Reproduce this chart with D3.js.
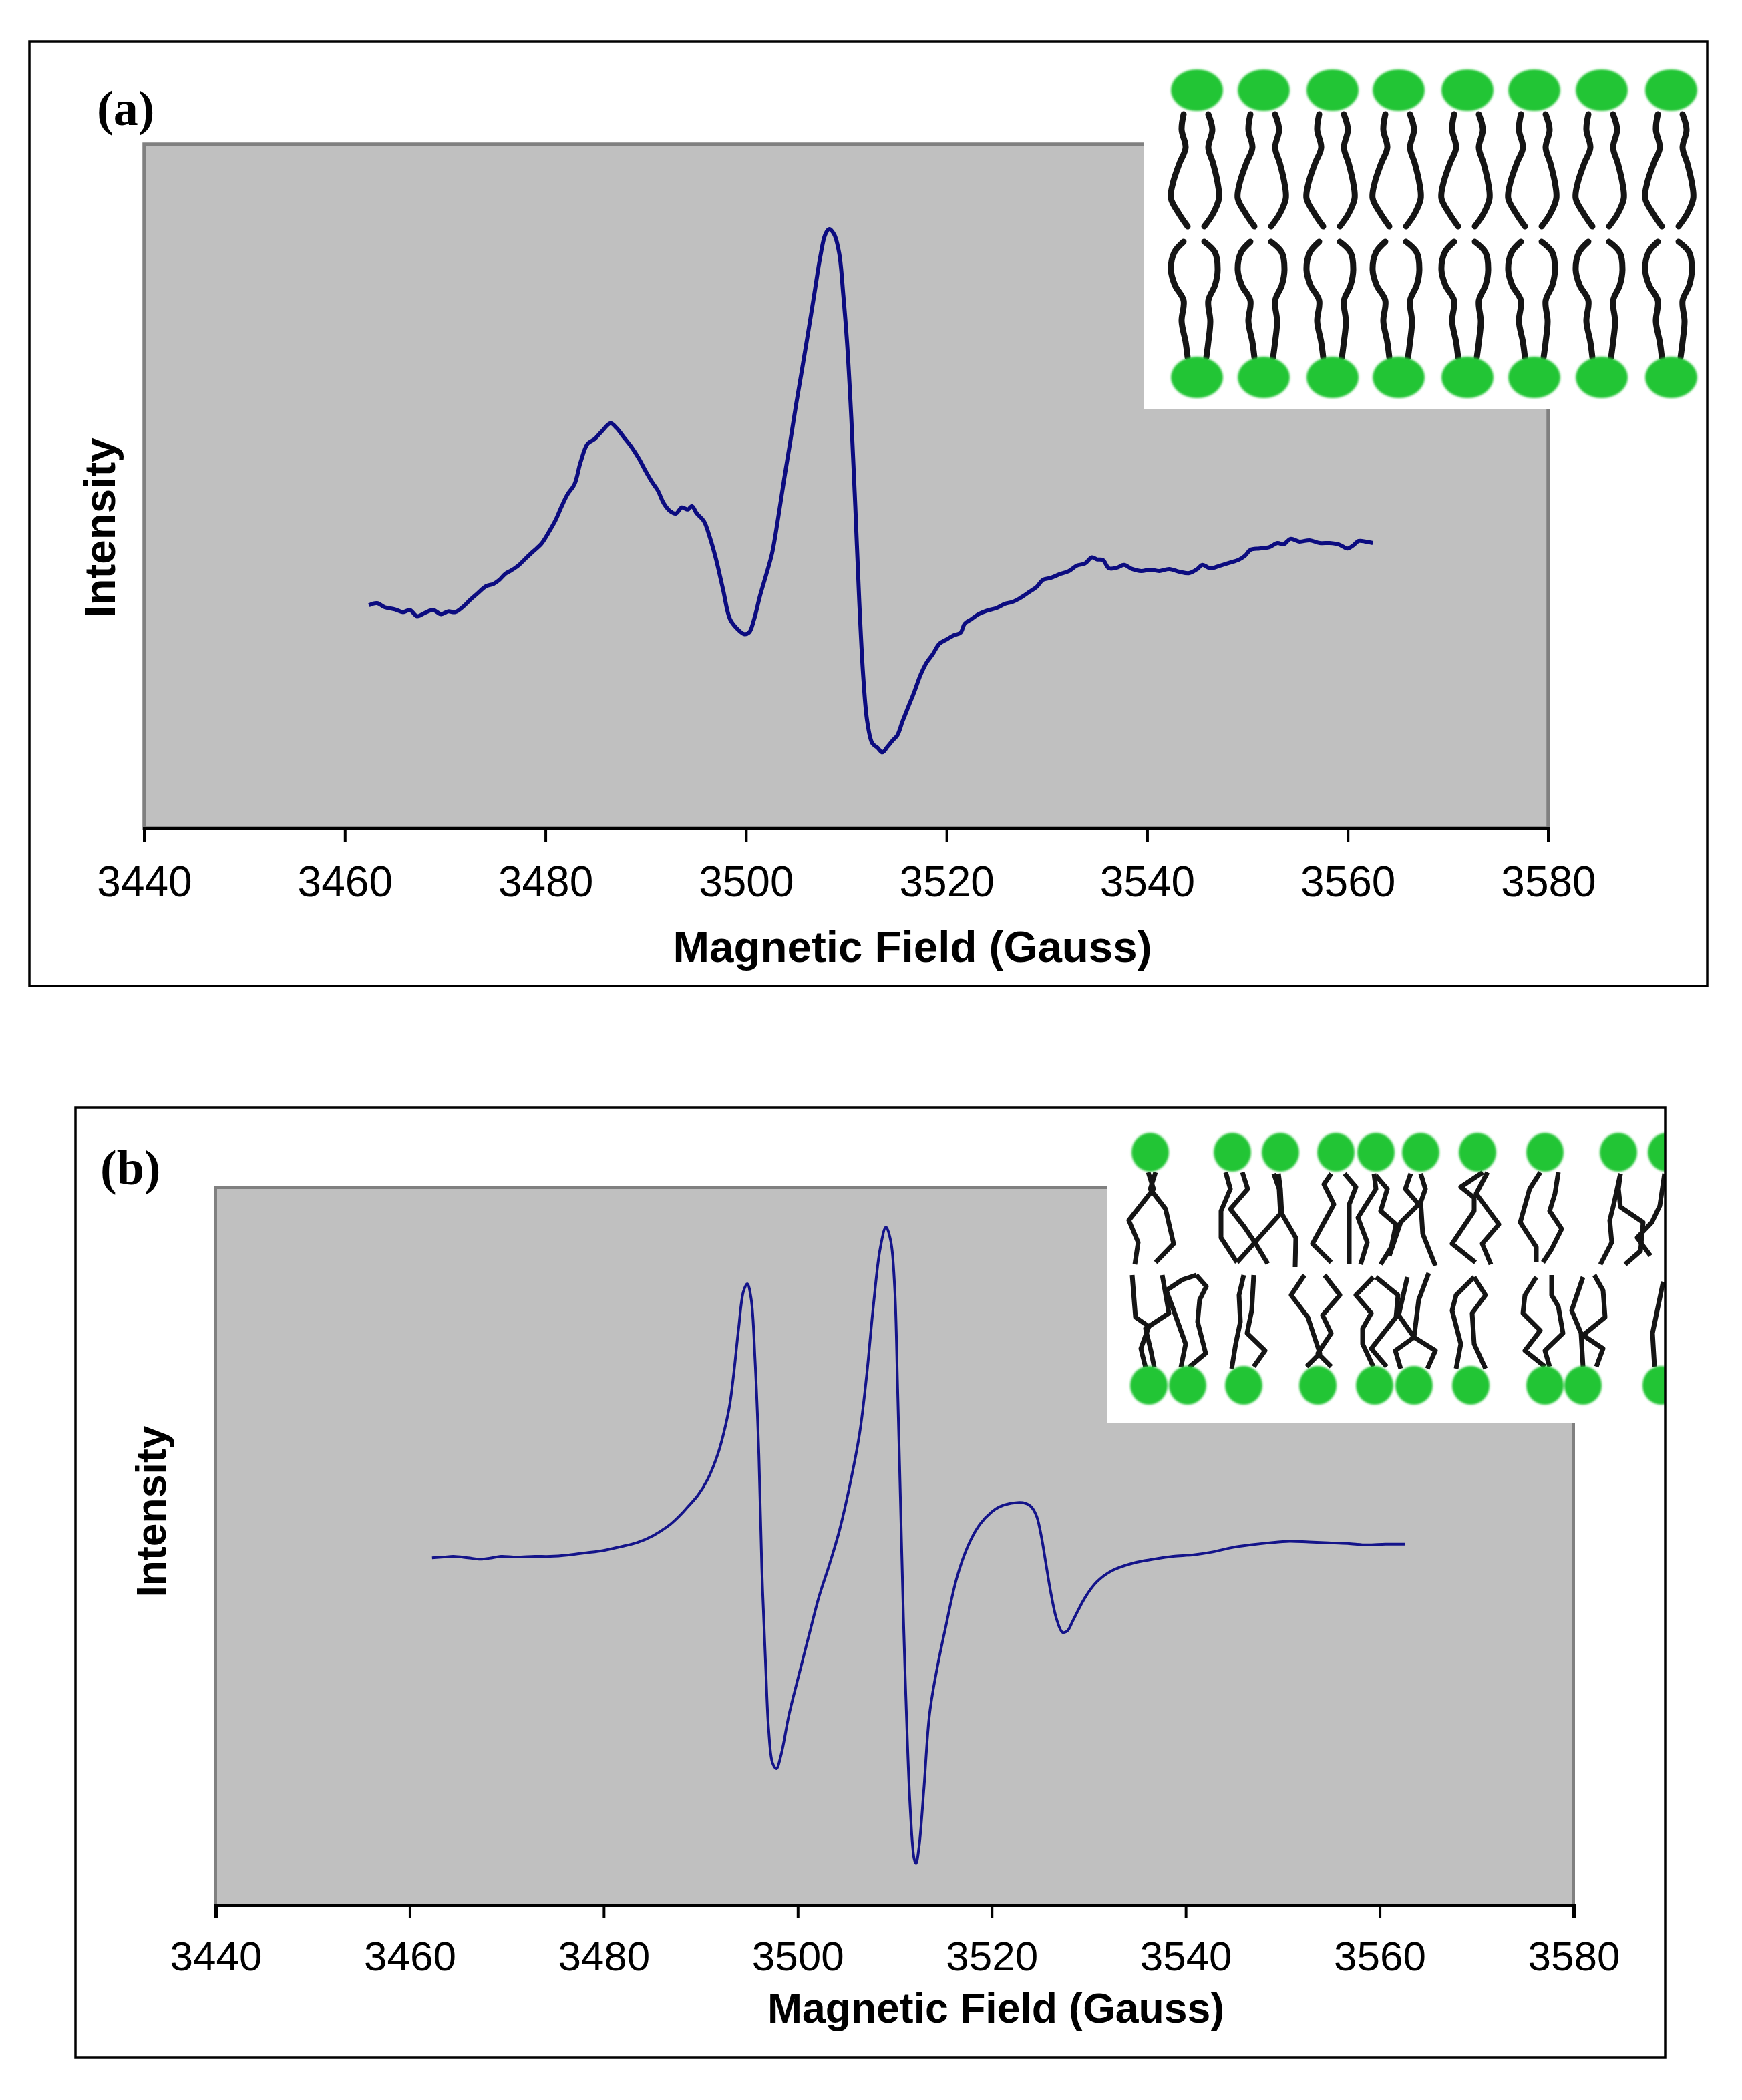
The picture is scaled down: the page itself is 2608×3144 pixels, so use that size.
<!DOCTYPE html>
<html lang="en">
  <head>
    <meta charset="UTF-8" />
    <title>EPR spectra</title>
    <script src="https://d3js.org/d3.v7.min.js"></script>
    <style>
      body { margin: 0; background: #fff; }
      text { font-family: Arial, "Liberation Sans", sans-serif; }
    </style>
  </head>
  <body>
    <svg width="2608" height="3144"></svg>
    <script>
      // x axis (Gauss)
      var xDomain = [3440, 3580];
      var xTicks = [3440, 3460, 3480, 3500, 3520, 3540, 3560, 3580];

      // spectrum (a) - intensity in % of plot height
      var fieldA = [3462.4, 3463.2, 3464.0, 3465.0, 3465.8, 3466.5, 3467.2, 3468.0, 3468.8, 3469.6,
        3470.3, 3471.0, 3471.8, 3472.5, 3473.2, 3474.1, 3474.8, 3475.4, 3476.0, 3476.6,
        3477.3, 3478.0, 3478.8, 3479.6, 3480.3, 3481.0, 3481.6, 3482.2, 3482.9, 3483.5,
        3484.2, 3484.9, 3485.6, 3486.5, 3487.1, 3487.8, 3488.5, 3489.3, 3490.0, 3490.6,
        3491.2, 3491.8, 3492.4, 3493.0, 3493.6, 3494.2, 3494.6, 3495.1, 3495.8, 3496.4,
        3497.0, 3497.7, 3498.4, 3499.1, 3499.8, 3500.3, 3500.8, 3501.4, 3502.0, 3502.6,
        3503.2, 3503.8, 3504.4, 3505.0, 3505.6, 3506.2, 3506.8, 3507.4, 3507.9, 3508.3,
        3508.8, 3509.3, 3509.7, 3510.1, 3510.5, 3510.9, 3511.3, 3511.7, 3512.1, 3512.6,
        3513.1, 3513.6, 3514.1, 3514.6, 3515.1, 3515.6, 3516.2, 3516.8, 3517.4, 3518.0,
        3518.6, 3519.3, 3520.0, 3520.7, 3521.4, 3521.8, 3522.5, 3523.2, 3524.0, 3525.0,
        3525.8, 3526.6, 3527.5, 3528.3, 3529.0, 3529.6, 3530.4, 3531.2, 3532.2, 3533.0,
        3533.8, 3534.5, 3535.0, 3535.6, 3536.2, 3537.0, 3537.7, 3538.5, 3539.4, 3540.3,
        3541.2, 3542.2, 3543.2, 3544.2, 3545.0, 3545.5, 3546.3, 3547.3, 3548.2, 3549.2,
        3549.8, 3550.3, 3551.2, 3552.2, 3553.0, 3553.6, 3554.3, 3555.2, 3556.2, 3557.2,
        3558.2, 3559.1, 3560.0, 3560.5, 3561.1, 3561.8, 3562.5];
      var intensityA = [32.6, 32.9, 32.3, 32.0, 31.6, 31.9, 31.0, 31.5, 31.9, 31.3,
        31.7, 31.6, 32.4, 33.4, 34.3, 35.4, 35.7, 36.3, 37.2, 37.7,
        38.4, 39.4, 40.5, 41.6, 43.2, 45.0, 47.0, 48.8, 50.3, 53.5,
        56.2, 56.9, 58.0, 59.2, 58.5, 57.2, 55.9, 54.1, 52.2, 50.7,
        49.4, 47.5, 46.4, 46.0, 46.9, 46.6, 47.1, 46.0, 44.9, 42.5,
        39.4, 35.0, 30.6, 29.2, 28.4, 28.6, 30.5, 34.0, 37.0, 40.2,
        45.3, 51.0, 56.4, 62.0, 67.2, 72.5, 78.0, 83.5, 86.8, 87.6,
        86.8, 84.0, 78.0, 70.5, 60.0, 47.0, 33.0, 22.0, 15.5, 12.4,
        11.8, 11.1, 11.9, 12.8, 13.6, 15.6, 17.8, 20.0, 22.4, 24.2,
        25.4, 27.0, 27.6, 28.2, 28.6, 29.9, 30.6, 31.3, 31.8, 32.2,
        32.8, 33.1, 33.8, 34.6, 35.3, 36.3, 36.6, 37.1, 37.6, 38.4,
        38.7, 39.6, 39.3, 39.2, 38.0, 38.1, 38.5, 37.9, 37.6, 37.8,
        37.6, 37.9, 37.5, 37.3, 37.9, 38.5, 38.0, 38.4, 38.8, 39.3,
        39.9, 40.7, 40.9, 41.1, 41.7, 41.5, 42.3, 41.9, 42.1, 41.7,
        41.7, 41.5, 40.9, 41.3, 42.0, 41.9, 41.7];

      // spectrum (b)
      var fieldB = [3462.3, 3463.5, 3464.5, 3466.0, 3467.3, 3468.5, 3469.4, 3471.0, 3472.9, 3474.5,
        3476.4, 3478.2, 3479.9, 3481.6, 3483.4, 3485.1, 3486.9, 3488.0, 3488.6, 3489.7,
        3490.7, 3491.8, 3492.5, 3493.0, 3493.4, 3493.9, 3494.4, 3494.8, 3495.2, 3495.6,
        3496.0, 3496.3, 3496.7, 3497.0, 3497.4, 3497.8, 3498.3, 3499.1, 3500.2, 3501.2,
        3502.2, 3503.3, 3504.3, 3505.4, 3506.4, 3507.1, 3507.8, 3508.5, 3509.1, 3509.6,
        3510.0, 3510.3, 3510.6, 3510.9, 3511.2, 3511.6, 3512.0, 3512.2, 3512.5, 3513.0,
        3513.6, 3514.4, 3515.2, 3516.4, 3517.6, 3518.8, 3520.0, 3520.8, 3522.0, 3523.2,
        3524.0, 3524.6, 3525.1, 3525.6, 3526.1, 3526.7, 3527.3, 3527.8, 3528.4, 3529.6,
        3530.8, 3532.4, 3534.7, 3536.7, 3538.7, 3540.7, 3542.7, 3544.7, 3546.7, 3548.7,
        3550.7, 3552.7, 3554.7, 3556.7, 3558.6, 3560.6, 3562.6];
      var intensityB = [48.4, 48.5, 48.6, 48.4, 48.2, 48.4, 48.6, 48.5, 48.6, 48.6,
        48.8, 49.1, 49.4, 49.9, 50.5, 51.5, 53.1, 54.5, 55.4, 57.1,
        59.3, 63.0, 66.5, 69.8, 74.0, 80.3, 85.5, 86.6, 84.5, 76.0,
        62.6, 47.0, 33.2, 24.5, 19.8, 19.0, 21.0, 26.5, 32.5, 37.8,
        43.0, 47.6, 52.2, 58.7, 65.9, 73.7, 83.5, 91.5, 94.5, 92.5,
        86.0, 72.0, 56.0, 40.0, 27.0, 13.5, 6.5, 5.8, 8.0, 16.0,
        26.7, 33.2, 38.4, 45.6, 50.2, 53.1, 54.8, 55.5, 56.0, 56.1,
        55.6, 54.3, 51.5, 47.5, 43.5, 39.8, 38.0, 38.2, 39.7, 42.8,
        45.0, 46.6, 47.7, 48.2, 48.6, 48.8, 49.2, 49.8, 50.2, 50.5,
        50.7, 50.6, 50.5, 50.4, 50.2, 50.3, 50.3];

      // lipid cartoon (a): ordered bilayer
      var headsA = [1792, 1892, 1995, 2094, 2197, 2297, 2398, 2502];
      var upperDy = [36, 59, 86, 109, 139, 162, 185, 204];
      var upperLeft = [-20, -23, -17, -26, -36, -39, -27, -14];
      var upperRight = [17, 23, 17, 24, 31, 33, 24, 11];
      var lowerDy = [-203, -187, -161, -138, -115, -84, -53, -30];
      var lowerLeft = [-20, -34, -39, -33, -20, -23, -17, -14];
      var lowerRight = [11, 27, 31, 27, 17, 20, 17, 14];

      // lipid cartoon (b): disordered bilayer, chains as [dx, dy] from the head centre
      var topHeadsB = [1722, 1845, 1917, 2000, 2060, 2127, 2212, 2313, 2423, 2495];
      var botHeadsB = [1720, 1778, 1862, 1973, 2058, 2117, 2202, 2313, 2370, 2487];
      var topTailsB = [
        [[[-3, 30], [5, 55], [-32, 102], [-18, 135], [-23, 168]], [[8, 30], [0, 55], [23, 85], [35, 137], [8, 165]]],
        [[[-10, 30], [-3, 55], [-17, 88], [-17, 128], [7, 165]], [[15, 30], [23, 55], [-3, 85], [18, 112], [35, 137], [53, 167]]],
        [[[-10, 32], [-2, 55], [0, 92], [-40, 137], [-65, 165]], [[-3, 32], [0, 55], [2, 92], [23, 128], [22, 172]]],
        [[[-7, 32], [-18, 48], [-3, 78], [-35, 137], [-7, 165]], [[13, 32], [30, 52], [20, 78], [20, 168]]],
        [[[-3, 32], [0, 55], [-27, 98], [-13, 135], [-23, 168]], [[0, 35], [17, 55], [7, 88], [30, 108], [23, 142], [7, 168]]],
        [[[-15, 32], [-23, 55], [-3, 78], [-30, 105], [-47, 155]], [[0, 32], [7, 55], [0, 75], [3, 122], [22, 170]]],
        [[[8, 30], [-25, 52], [-5, 68], [-5, 88], [-38, 137], [-3, 165]], [[15, 30], [-2, 62], [32, 108], [7, 137], [20, 168]]],
        [[[-7, 30], [-23, 55], [-37, 105], [-13, 142], [-13, 165]], [[20, 30], [15, 62], [7, 88], [25, 115], [10, 145], [-3, 165]]],
        [[[3, 32], [-7, 78], [-13, 102], [-10, 135], [-27, 168]], [[3, 32], [0, 55], [3, 82], [37, 105], [33, 148], [10, 168]]],
        [[[-3, 32], [-10, 80], [-22, 105], [-44, 128], [-24, 155]], [[3, 32], [4, 80], [10, 120]]]
      ];
      var botTailsB = [
        [[[-5, -27], [-12, -55], [0, -88], [-20, -102], [-25, -165]], [[8, -27], [3, -52], [-5, -85], [30, -108], [20, -165]]],
        [[[-10, -27], [-3, -62], [-23, -118], [-32, -142], [-8, -158], [13, -165]], [[2, -27], [27, -48], [15, -95], [18, -128], [28, -148], [13, -165]]],
        [[[-18, -25], [-12, -62], [-5, -95], [-7, -135], [0, -165]], [[15, -28], [32, -52], [5, -78], [12, -112], [15, -165]]],
        [[[-17, -28], [3, -48], [-15, -102], [-40, -135], [-20, -165]], [[20, -28], [0, -48], [20, -78], [7, -105], [33, -135], [10, -165]]],
        [[[-2, -28], [-18, -62], [-18, -85], [-5, -108], [-28, -135], [-2, -162]], [[18, -28], [-5, -55], [32, -102], [35, -135], [2, -162]]],
        [[[-20, -25], [-28, -52], [0, -72], [-23, -105], [-10, -162]], [[20, -25], [32, -52], [0, -72], [7, -128], [22, -168]]],
        [[[-22, -25], [-15, -62], [-28, -112], [-22, -135], [5, -162]], [[22, -25], [5, -62], [2, -108], [22, -135], [5, -162]]],
        [[[0, -28], [-30, -52], [-7, -82], [-33, -108], [-30, -135], [-13, -162]], [[7, -28], [0, -52], [27, -78], [20, -118], [10, -135], [10, -165]]],
        [[[0, -28], [-3, -78], [-17, -112], [0, -162]], [[20, -28], [30, -55], [0, -75], [33, -102], [30, -142], [17, -165]]],
        [[[-10, -28], [-13, -78], [3, -155]], [[10, -28], [12, -90]]]
      ];

      var svg = d3.select("svg");
      svg.append("rect").attr("width", 2608).attr("height", 3144).attr("fill", "#fff");

      var defs = svg.append("defs");
      defs.append("filter").attr("id", "soft")
        .append("feGaussianBlur").attr("stdDeviation", 1.6);

      var green = "#22c535";
      var smoothTail = d3.line().curve(d3.curveCatmullRom);
      var sharpTail = d3.line();

      function drawPanel(p) {
        var g = svg.append("g");

        var x = d3.scaleLinear().domain(xDomain).range([p.left, p.right]);
        var y = d3.scaleLinear().domain([0, 100]).range([p.bottom, p.top]);

        // plot area
        g.append("rect")
          .attr("x", p.left).attr("y", p.top)
          .attr("width", p.right - p.left).attr("height", p.bottom - p.top)
          .attr("fill", "#c0c0c0")
          .attr("stroke", "#808080")
          .attr("stroke-width", p.border);

        // spectrum
        var pts = p.field.map((f, i) => [f, p.intensity[i]]);
        g.append("path")
          .datum(pts)
          .attr("d", d3.line().x((d) => x(d[0])).y((d) => y(d[1])).curve(d3.curveCatmullRom))
          .attr("fill", "none")
          .attr("stroke", p.lineColor)
          .attr("stroke-width", p.lineWidth)
          .attr("stroke-linejoin", "round");

        // x axis
        var ax = g.append("g")
          .attr("transform", "translate(0," + p.bottom + ")")
          .call(d3.axisBottom(x).tickValues(xTicks).tickSizeOuter(0).tickSize(20).tickPadding(p.tickPad).tickFormat(d3.format("d")));
        ax.select(".domain").attr("stroke", "#000").attr("stroke-width", 5);
        ax.selectAll(".tick line").attr("stroke", "#000").attr("stroke-width", 4);
        ax.selectAll(".tick text")
          .attr("fill", "#000")
          .style("font-size", p.tickSize + "px")
          .style("font-family", "Arial, 'Liberation Sans', sans-serif");

        g.append("text")
          .attr("x", p.xTitleX).attr("y", p.xTitleY)
          .attr("text-anchor", "middle")
          .style("font-size", p.titleSize + "px")
          .style("font-weight", "bold")
          .text("Magnetic Field (Gauss)");

        g.append("text")
          .attr("transform", "translate(" + p.yTitleX + "," + p.yTitleY + ") rotate(-90)")
          .attr("text-anchor", "middle")
          .style("font-size", p.titleSize + "px")
          .style("font-weight", "bold")
          .text("Intensity");

        g.append("text")
          .attr("x", p.tagX).attr("y", p.tagY)
          .style("font-family", "'Liberation Serif', 'Times New Roman', serif")
          .style("font-size", "74px")
          .style("font-weight", "bold")
          .text(p.tag);

        // inset cartoon
        var ins = p.inset;
        var id = "clip" + p.tag.charAt(1);
        defs.append("clipPath").attr("id", id)
          .append("rect")
          .attr("x", ins.x0).attr("y", ins.y0)
          .attr("width", ins.x1 - ins.x0).attr("height", ins.y1 - ins.y0);
        g.append("rect")
          .attr("x", ins.x0).attr("y", ins.y0)
          .attr("width", ins.x1 - ins.x0).attr("height", ins.y1 - ins.y0)
          .attr("fill", "#fff");
        ins.draw(g.append("g").attr("clip-path", "url(#" + id + ")"));

        // frame
        g.append("rect")
          .attr("x", p.boxX0).attr("y", p.boxY0)
          .attr("width", p.boxX1 - p.boxX0).attr("height", p.boxY1 - p.boxY0)
          .attr("fill", "none")
          .attr("stroke", "#000")
          .attr("stroke-width", 3.5);
      }

      function drawOrdered(c) {
        var tails = c.append("g").attr("fill", "none").attr("stroke", "#151515")
          .attr("stroke-width", 9).attr("stroke-linecap", "round");
        headsA.forEach((hx) => {
          [upperLeft, upperRight].forEach((dx) => {
            tails.append("path").attr("d", smoothTail(dx.map((v, i) => [hx + v, 135 + upperDy[i]])));
          });
          [lowerLeft, lowerRight].forEach((dx) => {
            tails.append("path").attr("d", smoothTail(dx.map((v, i) => [hx + v, 565 + lowerDy[i]])));
          });
        });
        var heads = c.append("g").attr("fill", green).attr("filter", "url(#soft)");
        headsA.forEach((hx) => {
          heads.append("ellipse").attr("cx", hx).attr("cy", 135).attr("rx", 39).attr("ry", 31);
          heads.append("ellipse").attr("cx", hx).attr("cy", 565).attr("rx", 39).attr("ry", 31);
        });
      }

      function drawDisordered(c) {
        var tails = c.append("g").attr("fill", "none").attr("stroke", "#151515")
          .attr("stroke-width", 7).attr("stroke-linecap", "butt").attr("stroke-linejoin", "round");
        var topY = 1725, botY = 2074;
        topHeadsB.forEach((hx, k) => {
          topTailsB[k].forEach((chain) => {
            tails.append("path").attr("d", sharpTail(chain.map((d) => [hx + d[0], topY + d[1]])));
          });
        });
        botHeadsB.forEach((hx, k) => {
          botTailsB[k].forEach((chain) => {
            tails.append("path").attr("d", sharpTail(chain.map((d) => [hx + d[0], botY + d[1]])));
          });
        });
        var heads = c.append("g").attr("fill", green).attr("filter", "url(#soft)");
        topHeadsB.forEach((hx) => {
          heads.append("ellipse").attr("cx", hx).attr("cy", topY).attr("rx", 28).attr("ry", 29);
        });
        botHeadsB.forEach((hx) => {
          heads.append("ellipse").attr("cx", hx).attr("cy", botY).attr("rx", 28).attr("ry", 29);
        });
      }

      drawPanel({
        tag: "(a)", tagX: 145, tagY: 187,
        boxX0: 44, boxY0: 62, boxX1: 2556, boxY1: 1476,
        left: 216, right: 2318, top: 216, bottom: 1240, border: 5.5,
        field: fieldA, intensity: intensityA, lineColor: "#0c0c80", lineWidth: 6,
        tickSize: 64, tickPad: 37,
        titleSize: 65.5, xTitleX: 1366, xTitleY: 1440, yTitleX: 172, yTitleY: 790,
        inset: { x0: 1712, y0: 62, x1: 2556, y1: 613, draw: drawOrdered }
      });

      drawPanel({
        tag: "(b)", tagX: 150, tagY: 1773,
        boxX0: 113, boxY0: 1658, boxX1: 2493, boxY1: 3080,
        left: 323, right: 2356, top: 1778, bottom: 2852, border: 4,
        field: fieldB, intensity: intensityB, lineColor: "#14148a", lineWidth: 4,
        tickSize: 62, tickPad: 34,
        titleSize: 62.5, xTitleX: 1491, xTitleY: 3028, yTitleX: 248, yTitleY: 2263,
        inset: { x0: 1657, y0: 1658, x1: 2493, y1: 2130, draw: drawDisordered }
      });
    </script>
  </body>
</html>
